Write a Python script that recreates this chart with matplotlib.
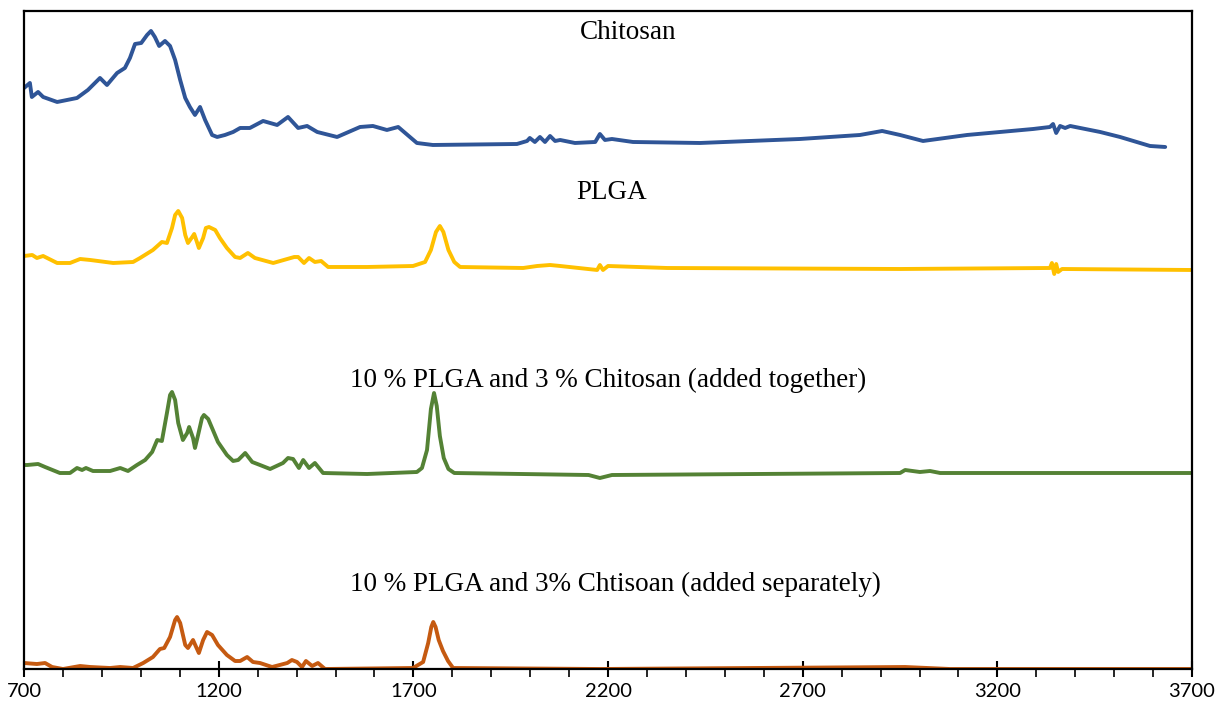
import numpy as np
import matplotlib.pyplot as plt

# FTIR spectra, wavenumber (cm-1) vs. relative absorbance (a.u.), each trace stacked by an offset
chitosan_wn = [700, 715, 720, 736, 749, 785, 836, 864, 895, 913, 939, 959, 972, 985, 1001, 1016,
               1026, 1036, 1047, 1062, 1075, 1088, 1101, 1114, 1126, 1139, 1152, 1165, 1183, 1196,
               1216, 1237, 1255, 1280, 1314, 1350, 1378, 1404, 1427, 1453, 1504, 1563, 1596, 1632,
               1661, 1709, 1750, 1966, 1992, 1999, 2012, 2025, 2038, 2051, 2064, 2077, 2115, 2167,
               2179, 2192, 2210, 2264, 2436, 2693, 2847, 2904, 2950, 3009, 3122, 3292, 3335, 3343,
               3351, 3361, 3374, 3387, 3464, 3515, 3592, 3631]
chitosan_abs = [5.7, 6.2, 4.8, 5.3, 4.8, 4.3, 4.7, 5.5, 6.7, 6.0, 7.2, 7.7, 8.7, 10.1, 10.2, 11.0,
                11.4, 10.8, 9.9, 10.4, 9.9, 8.5, 6.5, 4.7, 3.8, 3.0, 3.8, 2.5, 1.0, 0.8,
                1.0, 1.3, 1.7, 1.7, 2.4, 2.0, 2.8, 1.7, 1.9, 1.3, 0.8, 1.8, 1.9, 1.5,
                1.8, 0.2, 0.0, 0.1, 0.4, 0.7, 0.3, 0.8, 0.3, 0.9, 0.4, 0.5, 0.2, 0.3,
                1.1, 0.5, 0.6, 0.3, 0.2, 0.6, 1.0, 1.4, 1.0, 0.4, 1.0, 1.6, 1.8, 2.1,
                1.2, 1.9, 1.7, 1.9, 1.3, 0.8, -0.1, -0.2]

plga_wn = [700, 721, 733, 749, 785, 818, 844, 870, 929, 980, 998, 1031, 1054, 1067, 1080, 1088,
           1096, 1106, 1114, 1121, 1132, 1137, 1144, 1149, 1160, 1167, 1175, 1191, 1203, 1221,
           1242, 1255, 1275, 1293, 1340, 1376, 1394, 1404, 1419, 1432, 1447, 1463, 1481, 1581,
           1699, 1730, 1745, 1758, 1768, 1777, 1790, 1805, 1820, 1982, 2018, 2051, 2077, 2172,
           2179, 2187, 2200, 2352, 2950, 3335, 3340, 3346, 3351, 3356, 3366, 3700]
plga_abs = [1.2, 1.3, 1.0, 1.2, 0.5, 0.5, 0.9, 0.8, 0.5, 0.6, 1.0, 1.8, 2.6, 2.5, 4.0, 5.3,
            5.7, 5.0, 3.3, 2.5, 3.1, 3.4, 2.6, 2.0, 3.0, 4.0, 4.1, 3.8, 3.0, 2.0,
            1.1, 1.0, 1.5, 1.0, 0.5, 0.9, 1.1, 1.1, 0.5, 1.0, 0.6, 0.7, 0.1, 0.1,
            0.2, 0.6, 1.8, 3.6, 4.2, 3.6, 1.8, 0.6, 0.1, 0.0, 0.2, 0.3, 0.2, -0.2,
            0.3, -0.2, 0.2, 0.0, -0.1, 0.0, 0.5, -0.6, 0.4, -0.4, -0.1, -0.2]

together_wn = [700, 708, 736, 754, 792, 818, 836, 849, 859, 877, 921, 947, 967, 990, 1011, 1029,
               1042, 1054, 1067, 1075, 1080, 1088, 1096, 1108, 1119, 1124, 1134, 1139, 1147, 1157,
               1162, 1173, 1185, 1198, 1221, 1237, 1250, 1268, 1286, 1306, 1332, 1365, 1378, 1391,
               1406, 1417, 1432, 1447, 1468, 1581, 1709, 1722, 1735, 1745, 1753, 1760, 1768, 1778,
               1790, 1805, 2150, 2179, 2210, 2950, 2963, 3001, 3027, 3053, 3700]
together_abs = [0.9, 0.9, 1.0, 0.7, 0.1, 0.1, 0.6, 0.4, 0.6, 0.3, 0.3, 0.6, 0.3, 0.9, 1.4, 2.2,
                3.4, 3.3, 6.1, 7.9, 8.2, 7.4, 5.1, 3.4, 4.1, 4.7, 3.6, 2.6, 3.9, 5.6,
                5.9, 5.5, 4.4, 3.2, 1.9, 1.3, 1.4, 2.1, 1.2, 0.9, 0.5, 1.1, 1.6, 1.5,
                0.6, 1.4, 0.6, 1.1, 0.1, 0.0, 0.2, 0.6, 2.4, 6.5, 8.1, 6.8, 3.8, 1.6,
                0.5, 0.1, -0.1, -0.4, -0.1, 0.1, 0.4, 0.2, 0.3, 0.1, 0.1]

separate_wn = [700, 733, 754, 772, 800, 844, 870, 921, 947, 980, 1006, 1031, 1049, 1060, 1075, 1088,
               1093, 1101, 1114, 1121, 1134, 1142, 1149, 1160, 1170, 1183, 1198, 1221, 1242, 1255,
               1273, 1288, 1306, 1337, 1376, 1388, 1401, 1414, 1424, 1440, 1455, 1473, 1699, 1725,
               1738, 1746, 1751, 1757, 1765, 1776, 1789, 1802, 2179, 2963, 3078, 3700]
separate_abs = [0.6, 0.5, 0.6, 0.2, 0.0, 0.3, 0.2, 0.1, 0.2, 0.1, 0.6, 1.2, 2.0, 2.1, 3.2, 4.9,
                5.2, 4.6, 2.4, 2.1, 2.9, 2.2, 1.6, 2.9, 3.7, 3.4, 2.4, 1.4, 0.8, 0.8,
                1.2, 0.7, 0.6, 0.2, 0.6, 0.9, 0.7, 0.2, 0.8, 0.3, 0.6, 0.0, 0.1, 0.7,
                2.6, 4.2, 4.7, 4.2, 2.9, 1.8, 0.8, 0.1, 0.0, 0.2, 0.0, 0.0]

labels = ["Chitosan", "PLGA", "10 % PLGA and 3 % Chitosan (added together)",
          "10 % PLGA and 3% Chtisoan (added separately)"]
offsets = [52.4, 40.1, 19.5, 0.0]
colors = ["#2F5597", "#FFC000", "#548235", "#C55A11"]
label_pos = [(2251, 63.6), (2210, 47.6), (2201, 28.9), (2219, 8.5)]
xticks = [700, 1200, 1700, 2200, 2700, 3200, 3700]

fig = plt.figure(figsize=(12.21, 7.13), dpi=100)
ax = fig.add_axes([0.0197, 0.0617, 0.9566, 0.9229])

series = [(chitosan_wn, chitosan_abs), (plga_wn, plga_abs),
          (together_wn, together_abs), (separate_wn, separate_abs)]
for (wn, a), off, c in zip(series, offsets, colors):
    ax.plot(wn, np.array(a) + off, color=c, lw=2.8, solid_joinstyle="round", solid_capstyle="round")

for txt, (x, y) in zip(labels, label_pos):
    ax.text(x, y, txt, ha="center", va="center", fontsize=19.5, family="Liberation Serif")

ax.set_xlim(700, 3700)
ax.set_ylim(0, 65.8)
ax.set_xticks(xticks)
ax.set_xticks(np.arange(700, 3701, 100), minor=True)
ax.set_yticks([])
ax.tick_params(axis="x", which="major", direction="inout", length=12, width=1.5, pad=4,
               labelsize=14.5)
ax.tick_params(axis="x", which="minor", direction="out", length=6, width=1.2)
for lab in ax.get_xticklabels():
    lab.set_family("Lato")
for sp in ax.spines.values():
    sp.set_linewidth(1.6)

fig.savefig("out.png", dpi=100)
